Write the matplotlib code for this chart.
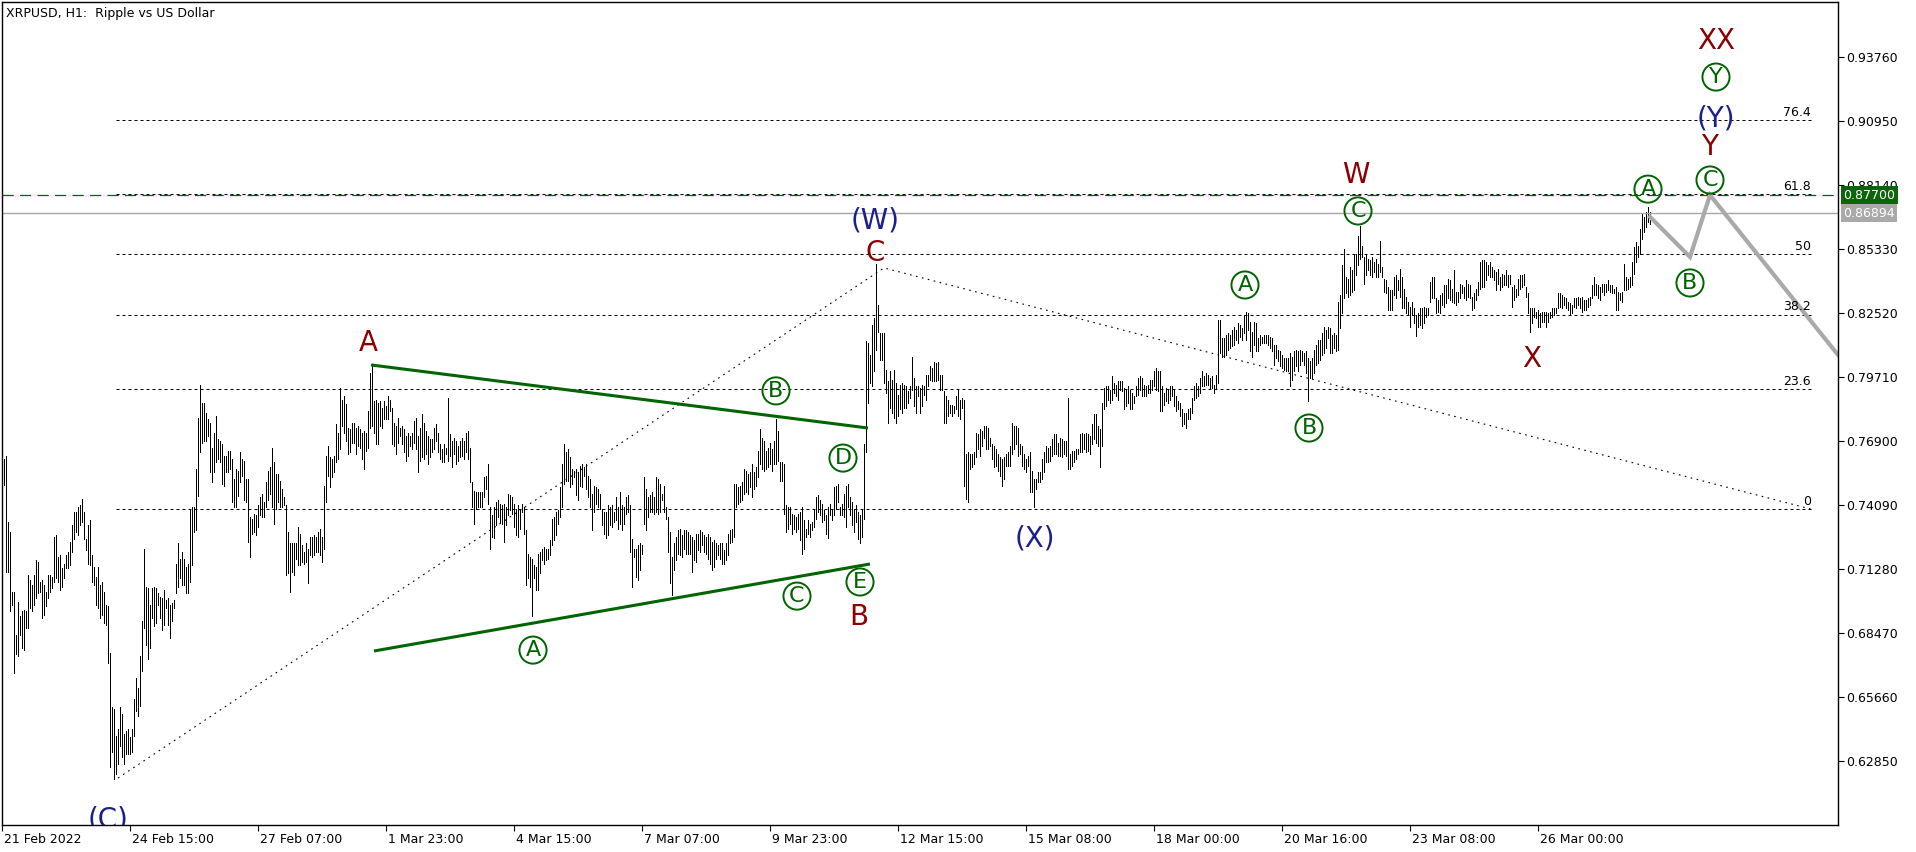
import numpy as np
import matplotlib
matplotlib.use("Agg")
import matplotlib.pyplot as plt
from matplotlib.transforms import blended_transform_factory, ScaledTranslation

# hourly bars (high / low)
high = [
    0.7611, 0.7625, 0.7334, 0.7291, 0.7029, 0.7029, 0.6840, 0.6985, 0.6920, 0.6942,
    0.6949, 0.6942, 0.7102, 0.7080, 0.7058, 0.7102, 0.7167, 0.7160, 0.7073, 0.7080,
    0.7058, 0.7029, 0.7102, 0.7102, 0.7094, 0.7269, 0.7276, 0.7182, 0.7189, 0.7131,
    0.7152, 0.7189, 0.7203, 0.7247, 0.7320, 0.7378, 0.7378, 0.7400, 0.7407, 0.7436,
    0.7378, 0.7261, 0.7320, 0.7341, 0.7189, 0.7138, 0.7094, 0.7138, 0.7058, 0.7073,
    0.7029, 0.6971, 0.6964, 0.6760, 0.6520, 0.6513, 0.6396, 0.6425, 0.6520, 0.6491,
    0.6403, 0.6418, 0.6425, 0.6389, 0.6425, 0.6556, 0.6651, 0.6607, 0.6745, 0.6898,
    0.7218, 0.7051, 0.7044, 0.6971, 0.7044, 0.7051, 0.7044, 0.7022, 0.7007, 0.7000,
    0.7036, 0.6993, 0.7000, 0.6971, 0.6978, 0.6993, 0.7152, 0.7240, 0.7174, 0.7203,
    0.7174, 0.7138, 0.7152, 0.7392, 0.7400, 0.7400, 0.7567, 0.7793, 0.7938, 0.7858,
    0.7858, 0.7814, 0.7785, 0.7771, 0.7661, 0.7727, 0.7800, 0.7698, 0.7691, 0.7676,
    0.7625, 0.7625, 0.7647, 0.7647, 0.7611, 0.7523, 0.7567, 0.7560, 0.7640, 0.7611,
    0.7603, 0.7523, 0.7523, 0.7356, 0.7349, 0.7370, 0.7363, 0.7407, 0.7443, 0.7458,
    0.7421, 0.7509, 0.7560, 0.7574, 0.7661, 0.7596, 0.7545, 0.7545, 0.7516, 0.7480,
    0.7443, 0.7407, 0.7291, 0.7240, 0.7240, 0.7240, 0.7240, 0.7312, 0.7283, 0.7232,
    0.7203, 0.7240, 0.7218, 0.7269, 0.7269, 0.7276, 0.7269, 0.7291, 0.7305, 0.7269,
    0.7494, 0.7625, 0.7669, 0.7618, 0.7611, 0.7625, 0.7763, 0.7727, 0.7923, 0.7872,
    0.7887, 0.7851, 0.7749, 0.7742, 0.7771, 0.7771, 0.7749, 0.7756, 0.7742, 0.7727,
    0.7734, 0.7727, 0.7822, 0.7989, 0.8025, 0.7865, 0.7872, 0.7858, 0.7865, 0.7836,
    0.7865, 0.7843, 0.7887, 0.7872, 0.7836, 0.7771, 0.7756, 0.7793, 0.7749, 0.7756,
    0.7742, 0.7712, 0.7727, 0.7712, 0.7727, 0.7778, 0.7793, 0.7712, 0.7749, 0.7807,
    0.7771, 0.7734, 0.7712, 0.7698, 0.7698, 0.7749, 0.7763, 0.7727, 0.7676, 0.7654,
    0.7676, 0.7661, 0.7880, 0.7720, 0.7691, 0.7705, 0.7691, 0.7669, 0.7691, 0.7705,
    0.7691, 0.7727, 0.7734, 0.7661, 0.7509, 0.7472, 0.7465, 0.7465, 0.7465, 0.7465,
    0.7531, 0.7538, 0.7589, 0.7400, 0.7363, 0.7400, 0.7421, 0.7429, 0.7414, 0.7407,
    0.7414, 0.7400, 0.7458, 0.7451, 0.7443, 0.7414, 0.7392, 0.7407, 0.7385, 0.7414,
    0.7400, 0.7298, 0.7196, 0.7182, 0.7174, 0.7145, 0.7138, 0.7196, 0.7203, 0.7218,
    0.7225, 0.7218, 0.7218, 0.7254, 0.7349, 0.7356, 0.7378, 0.7385, 0.7487, 0.7589,
    0.7676, 0.7640, 0.7654, 0.7618, 0.7567, 0.7560, 0.7567, 0.7552, 0.7581, 0.7589,
    0.7574, 0.7589, 0.7538, 0.7523, 0.7458, 0.7494, 0.7487, 0.7480, 0.7458, 0.7392,
    0.7378, 0.7378, 0.7407, 0.7400, 0.7407, 0.7378, 0.7443, 0.7400, 0.7465, 0.7407,
    0.7400, 0.7443, 0.7451, 0.7407, 0.7261, 0.7218, 0.7218, 0.7232, 0.7240, 0.7232,
    0.7531, 0.7480, 0.7443, 0.7451, 0.7465, 0.7443, 0.7531, 0.7523, 0.7501, 0.7458,
    0.7494, 0.7400, 0.7356, 0.7291, 0.7182, 0.7240, 0.7269, 0.7298, 0.7305, 0.7276,
    0.7298, 0.7298, 0.7291, 0.7276, 0.7269, 0.7254, 0.7283, 0.7283, 0.7298, 0.7291,
    0.7276, 0.7269, 0.7283, 0.7269, 0.7247, 0.7254, 0.7240, 0.7232, 0.7240, 0.7240,
    0.7211, 0.7240, 0.7283, 0.7298, 0.7305, 0.7501, 0.7501, 0.7487, 0.7494, 0.7509,
    0.7567, 0.7560, 0.7545, 0.7552, 0.7589, 0.7552, 0.7574, 0.7647, 0.7741, 0.7705,
    0.7691, 0.7647, 0.7661, 0.7683, 0.7654, 0.7691, 0.7785, 0.7734, 0.7596, 0.7596,
    0.7589, 0.7407, 0.7400, 0.7400, 0.7370, 0.7363, 0.7356, 0.7370, 0.7378, 0.7400,
    0.7341, 0.7305, 0.7341, 0.7327, 0.7334, 0.7385, 0.7443, 0.7451, 0.7429, 0.7414,
    0.7385, 0.7363, 0.7400, 0.7414, 0.7392, 0.7487, 0.7494, 0.7501, 0.7400, 0.7414,
    0.7458, 0.7494, 0.7501, 0.7443, 0.7421, 0.7392, 0.7407, 0.7378, 0.7363, 0.7392,
    0.7676, 0.8127, 0.8119, 0.8068, 0.8199, 0.8228, 0.8468, 0.8287, 0.8163, 0.8163,
    0.8163, 0.8003, 0.7952, 0.7996, 0.7959, 0.8003, 0.7945, 0.7894, 0.7938, 0.7945,
    0.7938, 0.7930, 0.7909, 0.7930, 0.8061, 0.7967, 0.7930, 0.7930, 0.7923, 0.7938,
    0.7930, 0.7981, 0.7981, 0.8018, 0.8010, 0.8039, 0.8032, 0.8039, 0.7981, 0.7981,
    0.7909, 0.7887, 0.7872, 0.7850, 0.7850, 0.7843, 0.7887, 0.7916, 0.7872, 0.7880,
    0.7872, 0.7632, 0.7640, 0.7632, 0.7632, 0.7640, 0.7727, 0.7720, 0.7742, 0.7734,
    0.7756, 0.7756, 0.7749, 0.7705, 0.7676, 0.7669, 0.7654, 0.7632, 0.7618, 0.7610,
    0.7618, 0.7632, 0.7640, 0.7669, 0.7770, 0.7756, 0.7756, 0.7749, 0.7676, 0.7669,
    0.7632, 0.7610, 0.7625, 0.7640, 0.7560, 0.7523, 0.7523, 0.7552, 0.7552, 0.7610,
    0.7640, 0.7669, 0.7661, 0.7669, 0.7698, 0.7720, 0.7720, 0.7683, 0.7705, 0.7698,
    0.7691, 0.7691, 0.7880, 0.7632, 0.7647, 0.7647, 0.7654, 0.7654, 0.7720, 0.7727,
    0.7720, 0.7727, 0.7720, 0.7712, 0.7763, 0.7807, 0.7807, 0.7756, 0.7742, 0.7858,
    0.7923, 0.7930, 0.7930, 0.7916, 0.7974, 0.7945, 0.7938, 0.7952, 0.7952, 0.7952,
    0.7923, 0.7916, 0.7930, 0.7916, 0.7901, 0.7887, 0.7930, 0.7967, 0.7974, 0.7967,
    0.7938, 0.7930, 0.7938, 0.7959, 0.7959, 0.7996, 0.8010, 0.7996, 0.7996, 0.7930,
    0.7901, 0.7923, 0.7916, 0.7930, 0.7930, 0.7916, 0.7887, 0.7865, 0.7858, 0.7829,
    0.7814, 0.7814, 0.7829, 0.7836, 0.7880, 0.7930, 0.7945, 0.7930, 0.7967, 0.7996,
    0.7974, 0.7989, 0.7981, 0.7967, 0.7974, 0.7938, 0.7981, 0.8221, 0.8221, 0.8141,
    0.8141, 0.8156, 0.8163, 0.8156, 0.8177, 0.8192, 0.8177, 0.8207, 0.8199, 0.8185,
    0.8243, 0.8258, 0.8250, 0.8214, 0.8170, 0.8214, 0.8207, 0.8141, 0.8156, 0.8148,
    0.8156, 0.8156, 0.8156, 0.8148, 0.8141, 0.8112, 0.8112, 0.8090, 0.8083, 0.8069,
    0.8054, 0.8054, 0.8054, 0.8076, 0.8061, 0.8083, 0.8090, 0.8083, 0.8090, 0.8083,
    0.8076, 0.8083, 0.8054, 0.8040, 0.8054, 0.8090, 0.8112, 0.8134, 0.8134, 0.8163,
    0.8192, 0.8178, 0.8192, 0.8185, 0.8156, 0.8163, 0.8156, 0.8301, 0.8330, 0.8461,
    0.8534, 0.8410, 0.8403, 0.8454, 0.8439, 0.8505, 0.8512, 0.8592, 0.8636, 0.8548,
    0.8498, 0.8505, 0.8490, 0.8483, 0.8498, 0.8476, 0.8490, 0.8469, 0.8570, 0.8454,
    0.8403, 0.8396, 0.8367, 0.8352, 0.8352, 0.8410, 0.8418, 0.8396, 0.8447, 0.8410,
    0.8359, 0.8323, 0.8301, 0.8279, 0.8301, 0.8272, 0.8243, 0.8250, 0.8272, 0.8272,
    0.8279, 0.8272, 0.8272, 0.8389, 0.8410, 0.8410, 0.8316, 0.8309, 0.8330, 0.8338,
    0.8374, 0.8374, 0.8403, 0.8396, 0.8359, 0.8439, 0.8345, 0.8345, 0.8381, 0.8374,
    0.8367, 0.8396, 0.8381, 0.8374, 0.8323, 0.8338, 0.8359, 0.8389, 0.8476, 0.8483,
    0.8483, 0.8476, 0.8461, 0.8476, 0.8454, 0.8439, 0.8432, 0.8447, 0.8410, 0.8425,
    0.8418, 0.8439, 0.8418, 0.8418, 0.8367, 0.8374, 0.8359, 0.8403, 0.8418, 0.8418,
    0.8425, 0.8367, 0.8338, 0.8272, 0.8272, 0.8272, 0.8258, 0.8265, 0.8250, 0.8258,
    0.8258, 0.8258, 0.8250, 0.8258, 0.8272, 0.8272, 0.8272, 0.8338, 0.8338, 0.8330,
    0.8323, 0.8316, 0.8301, 0.8294, 0.8287, 0.8316, 0.8316, 0.8323, 0.8316, 0.8323,
    0.8309, 0.8309, 0.8316, 0.8323, 0.8374, 0.8410, 0.8381, 0.8374, 0.8367, 0.8381,
    0.8381, 0.8381, 0.8396, 0.8374, 0.8374, 0.8359, 0.8367, 0.8345, 0.8338, 0.8345,
    0.8468, 0.8410, 0.8403, 0.8410, 0.8476, 0.8541, 0.8563, 0.8548, 0.8621, 0.8687,
    0.8672, 0.8694, 0.8716, 0.8694,
]
low = [
    0.7497, 0.7116, 0.7116, 0.6942, 0.6971, 0.6673, 0.6753, 0.6745, 0.6840, 0.6782,
    0.6774, 0.6869, 0.6869, 0.6956, 0.6942, 0.6971, 0.7000, 0.7022, 0.7029, 0.6912,
    0.6927, 0.6964, 0.7000, 0.7029, 0.7044, 0.7073, 0.7087, 0.7073, 0.7036, 0.7051,
    0.7087, 0.7131, 0.7131, 0.7145, 0.7203, 0.7261, 0.7291, 0.7276, 0.7320, 0.7334,
    0.7261, 0.7211, 0.7152, 0.7145, 0.7073, 0.7058, 0.6971, 0.6956, 0.6912, 0.6927,
    0.6891, 0.6883, 0.6716, 0.6258, 0.6323, 0.6207, 0.6229, 0.6273, 0.6352, 0.6302,
    0.6273, 0.6316, 0.6316, 0.6316, 0.6323, 0.6396, 0.6505, 0.6484, 0.6527, 0.6680,
    0.6869, 0.6796, 0.6731, 0.6782, 0.6912, 0.6876, 0.6891, 0.6971, 0.6912, 0.6862,
    0.6883, 0.6956, 0.6883, 0.6825, 0.6898, 0.6956, 0.7022, 0.7051, 0.7087, 0.7058,
    0.7058, 0.7022, 0.7022, 0.7073, 0.7145, 0.7291, 0.7298, 0.7450, 0.7640, 0.7683,
    0.7691, 0.7691, 0.7712, 0.7552, 0.7509, 0.7552, 0.7596, 0.7611, 0.7596, 0.7501,
    0.7494, 0.7552, 0.7552, 0.7567, 0.7421, 0.7400, 0.7400, 0.7450, 0.7509, 0.7538,
    0.7429, 0.7421, 0.7247, 0.7182, 0.7283, 0.7291, 0.7276, 0.7312, 0.7363, 0.7356,
    0.7356, 0.7400, 0.7429, 0.7458, 0.7400, 0.7327, 0.7392, 0.7421, 0.7400, 0.7400,
    0.7407, 0.7102, 0.7109, 0.7029, 0.7116, 0.7102, 0.7174, 0.7145, 0.7145, 0.7160,
    0.7152, 0.7160, 0.7065, 0.7189, 0.7182, 0.7189, 0.7203, 0.7203, 0.7189, 0.7160,
    0.7218, 0.7421, 0.7538, 0.7487, 0.7531, 0.7552, 0.7596, 0.7611, 0.7654, 0.7756,
    0.7727, 0.7691, 0.7632, 0.7640, 0.7683, 0.7683, 0.7632, 0.7669, 0.7661, 0.7611,
    0.7567, 0.7647, 0.7661, 0.7749, 0.7756, 0.7727, 0.7676, 0.7676, 0.7756, 0.7749,
    0.7785, 0.7785, 0.7785, 0.7822, 0.7676, 0.7669, 0.7632, 0.7683, 0.7712, 0.7676,
    0.7640, 0.7603, 0.7625, 0.7669, 0.7654, 0.7683, 0.7654, 0.7552, 0.7603, 0.7618,
    0.7610, 0.7632, 0.7589, 0.7618, 0.7640, 0.7654, 0.7690, 0.7640, 0.7610, 0.7596,
    0.7596, 0.7632, 0.7603, 0.7625, 0.7574, 0.7632, 0.7589, 0.7603, 0.7618, 0.7625,
    0.7610, 0.7640, 0.7610, 0.7509, 0.7400, 0.7327, 0.7392, 0.7400, 0.7400, 0.7400,
    0.7443, 0.7480, 0.7414, 0.7218, 0.7269, 0.7262, 0.7320, 0.7356, 0.7334, 0.7327,
    0.7247, 0.7320, 0.7363, 0.7385, 0.7370, 0.7312, 0.7276, 0.7269, 0.7305, 0.7378,
    0.7283, 0.7058, 0.7087, 0.7051, 0.6920, 0.7087, 0.7036, 0.7036, 0.7109, 0.7167,
    0.7152, 0.7167, 0.7174, 0.7189, 0.7232, 0.7254, 0.7276, 0.7327, 0.7356, 0.7400,
    0.7501, 0.7516, 0.7516, 0.7487, 0.7501, 0.7531, 0.7451, 0.7429, 0.7494, 0.7487,
    0.7538, 0.7480, 0.7443, 0.7400, 0.7298, 0.7378, 0.7414, 0.7400, 0.7392, 0.7320,
    0.7283, 0.7262, 0.7276, 0.7320, 0.7312, 0.7334, 0.7341, 0.7305, 0.7327, 0.7298,
    0.7327, 0.7370, 0.7378, 0.7203, 0.7051, 0.7182, 0.7094, 0.7080, 0.7123, 0.7196,
    0.7327, 0.7298, 0.7356, 0.7378, 0.7378, 0.7370, 0.7378, 0.7370, 0.7378, 0.7429,
    0.7378, 0.7349, 0.7203, 0.7065, 0.7014, 0.7123, 0.7167, 0.7196, 0.7189, 0.7182,
    0.7218, 0.7196, 0.7196, 0.7196, 0.7116, 0.7167, 0.7160, 0.7211, 0.7203, 0.7232,
    0.7203, 0.7196, 0.7174, 0.7152, 0.7123, 0.7138, 0.7174, 0.7189, 0.7174, 0.7152,
    0.7152, 0.7167, 0.7189, 0.7240, 0.7247, 0.7269, 0.7400, 0.7414, 0.7421, 0.7429,
    0.7458, 0.7465, 0.7458, 0.7487, 0.7443, 0.7480, 0.7494, 0.7531, 0.7589, 0.7567,
    0.7560, 0.7567, 0.7574, 0.7589, 0.7560, 0.7589, 0.7589, 0.7603, 0.7516, 0.7516,
    0.7370, 0.7291, 0.7305, 0.7327, 0.7283, 0.7305, 0.7291, 0.7305, 0.7254, 0.7196,
    0.7218, 0.7269, 0.7283, 0.7269, 0.7298, 0.7312, 0.7349, 0.7378, 0.7363, 0.7334,
    0.7341, 0.7283, 0.7262, 0.7363, 0.7341, 0.7363, 0.7392, 0.7421, 0.7363, 0.7363,
    0.7356, 0.7312, 0.7400, 0.7363, 0.7320, 0.7290, 0.7334, 0.7261, 0.7243, 0.7270,
    0.7349, 0.7640, 0.7858, 0.7945, 0.7930, 0.7996, 0.8090, 0.8170, 0.8047, 0.8047,
    0.7945, 0.7901, 0.7770, 0.7836, 0.7814, 0.7792, 0.7770, 0.7800, 0.7829, 0.7814,
    0.7836, 0.7836, 0.7858, 0.7880, 0.7916, 0.7843, 0.7814, 0.7887, 0.7814, 0.7843,
    0.7894, 0.7872, 0.7930, 0.7959, 0.7952, 0.7952, 0.7952, 0.7959, 0.7916, 0.7916,
    0.7770, 0.7770, 0.7800, 0.7814, 0.7800, 0.7814, 0.7829, 0.7800, 0.7785, 0.7836,
    0.7494, 0.7436, 0.7421, 0.7567, 0.7574, 0.7589, 0.7618, 0.7654, 0.7625, 0.7669,
    0.7705, 0.7654, 0.7654, 0.7669, 0.7611, 0.7574, 0.7581, 0.7560, 0.7538, 0.7494,
    0.7523, 0.7581, 0.7581, 0.7581, 0.7632, 0.7654, 0.7676, 0.7625, 0.7632, 0.7581,
    0.7567, 0.7552, 0.7581, 0.7465, 0.7465, 0.7400, 0.7480, 0.7509, 0.7509, 0.7523,
    0.7552, 0.7596, 0.7596, 0.7603, 0.7625, 0.7632, 0.7632, 0.7625, 0.7625, 0.7618,
    0.7632, 0.7625, 0.7567, 0.7567, 0.7581, 0.7596, 0.7610, 0.7632, 0.7640, 0.7640,
    0.7654, 0.7640, 0.7647, 0.7632, 0.7676, 0.7698, 0.7683, 0.7669, 0.7574, 0.7669,
    0.7829, 0.7843, 0.7872, 0.7858, 0.7872, 0.7901, 0.7887, 0.7872, 0.7916, 0.7909,
    0.7829, 0.7843, 0.7858, 0.7829, 0.7829, 0.7858, 0.7887, 0.7894, 0.7916, 0.7887,
    0.7887, 0.7887, 0.7901, 0.7901, 0.7916, 0.7930, 0.7916, 0.7909, 0.7821, 0.7821,
    0.7850, 0.7865, 0.7858, 0.7872, 0.7887, 0.7843, 0.7821, 0.7829, 0.7800, 0.7756,
    0.7763, 0.7749, 0.7785, 0.7785, 0.7814, 0.7872, 0.7880, 0.7887, 0.7901, 0.7930,
    0.7930, 0.7938, 0.7938, 0.7923, 0.7923, 0.7901, 0.7923, 0.7945, 0.8076, 0.8061,
    0.8061, 0.8068, 0.8090, 0.8097, 0.8105, 0.8112, 0.8134, 0.8119, 0.8148, 0.8134,
    0.8163, 0.8134, 0.8178, 0.8083, 0.8061, 0.8112, 0.8083, 0.8083, 0.8112, 0.8119,
    0.8119, 0.8119, 0.8112, 0.8098, 0.8083, 0.8025, 0.8054, 0.8040, 0.8018, 0.8010,
    0.8003, 0.7996, 0.7996, 0.7930, 0.7960, 0.7996, 0.8018, 0.7996, 0.8025, 0.8040,
    0.8025, 0.7989, 0.7865, 0.7967, 0.7967, 0.7989, 0.8025, 0.8032, 0.8047, 0.8069,
    0.8076, 0.8098, 0.8141, 0.8076, 0.8076, 0.8098, 0.8083, 0.8090, 0.8185, 0.8250,
    0.8316, 0.8338, 0.8323, 0.8330, 0.8345, 0.8352, 0.8418, 0.8461, 0.8490, 0.8498,
    0.8381, 0.8418, 0.8440, 0.8418, 0.8410, 0.8432, 0.8410, 0.8410, 0.8432, 0.8410,
    0.8345, 0.8338, 0.8265, 0.8265, 0.8265, 0.8330, 0.8316, 0.8352, 0.8323, 0.8272,
    0.8272, 0.8250, 0.8243, 0.8192, 0.8243, 0.8207, 0.8149, 0.8192, 0.8199, 0.8185,
    0.8207, 0.8236, 0.8243, 0.8301, 0.8316, 0.8316, 0.8250, 0.8258, 0.8250, 0.8287,
    0.8279, 0.8294, 0.8316, 0.8309, 0.8301, 0.8294, 0.8287, 0.8301, 0.8316, 0.8338,
    0.8316, 0.8309, 0.8323, 0.8316, 0.8265, 0.8272, 0.8309, 0.8330, 0.8359, 0.8367,
    0.8367, 0.8396, 0.8418, 0.8410, 0.8410, 0.8396, 0.8352, 0.8381, 0.8352, 0.8367,
    0.8374, 0.8374, 0.8367, 0.8381, 0.8279, 0.8309, 0.8323, 0.8330, 0.8359, 0.8367,
    0.8374, 0.8323, 0.8250, 0.8170, 0.8207, 0.8236, 0.8229, 0.8192, 0.8192, 0.8214,
    0.8214, 0.8192, 0.8214, 0.8229, 0.8236, 0.8243, 0.8250, 0.8272, 0.8279, 0.8272,
    0.8287, 0.8272, 0.8265, 0.8243, 0.8250, 0.8279, 0.8272, 0.8287, 0.8272, 0.8258,
    0.8265, 0.8265, 0.8279, 0.8287, 0.8316, 0.8330, 0.8330, 0.8316, 0.8309, 0.8345,
    0.8330, 0.8345, 0.8352, 0.8345, 0.8338, 0.8338, 0.8265, 0.8265, 0.8309, 0.8301,
    0.8352, 0.8352, 0.8359, 0.8367, 0.8374, 0.8425, 0.8476, 0.8498, 0.8512, 0.8577,
    0.8607, 0.8628, 0.8650, 0.8643,
]

tick_bars = [-1, 63, 127, 191, 255, 319, 383, 447, 511, 575, 639, 703, 767]
tick_dates = ["21 Feb 2022", "24 Feb 15:00", "27 Feb 07:00", "1 Mar 23:00",
              "4 Mar 15:00", "7 Mar 07:00", "9 Mar 23:00", "12 Mar 15:00",
              "15 Mar 08:00", "18 Mar 00:00", "20 Mar 16:00", "23 Mar 08:00",
              "26 Mar 00:00"]
price_ticks = [0.93760, 0.90950, 0.88140, 0.85330, 0.82520, 0.79710,
               0.76900, 0.74090, 0.71280, 0.68470, 0.65660, 0.62850]

fib_levels = [0.0, 23.6, 38.2, 50.0, 61.8, 76.4]
fib_0, fib_100 = 0.7391, 0.9627
target_price = 0.87700
last_price = 0.86894

# wave labels: (text, bar, price)
red_labels = [("A", 182, 0.8120), ("C", 435.5, 0.8515), ("B", 427.5, 0.6917),
              ("W", 676, 0.8858), ("X", 764, 0.8050), ("Y", 853, 0.8981),
              ("XX", 856, 0.9446)]
navy_labels = [("(C)", 52, 0.6026), ("(W)", 435.5, 0.8660),
               ("(X)", 515.5, 0.7264), ("(Y)", 856, 0.9108)]
circle_labels = [("A", 264.5, 0.6772), ("C", 396.5, 0.7009), ("B", 386, 0.7910),
                 ("D", 419.5, 0.7615), ("E", 428, 0.7071), ("A", 620.5, 0.8375),
                 ("B", 652.5, 0.7747), ("C", 677, 0.8700), ("A", 822, 0.8796),
                 ("B", 843, 0.8384), ("C", 853, 0.8836), ("Y", 856, 0.9288)]

upper_line = ([183.5, 432], [0.8024, 0.7747])
lower_line = ([185, 433], [0.6768, 0.7150])
fib_trend = ([57, 440, 903.5], [0.6210, 0.8450, 0.7391])
forecast = ([823, 843, 853, 917], [0.8674, 0.8498, 0.8770, 0.8068])

RED = "#8b0000"
NAVY = "#1c1f8a"
GREEN = "#006400"

fig = plt.figure(figsize=(19.16, 8.52), dpi=100)
ax = fig.add_axes([2 / 1916, 27 / 852, 1836 / 1916, 823 / 852])
ax.set_xlim(-1, 917)
ax.set_ylim(0.60040, 0.96175)

bars = np.arange(len(high))
ax.vlines(bars, low, high, color="black", lw=0.72, antialiased=False)

for lv in fib_levels:
    p = fib_0 + (fib_100 - fib_0) * lv / 100
    ax.plot([56, 903.5], [p, p], color="black", lw=0.72, ls=(0, (3, 3)))
    ax.text(903.5, p + 0.0006, f"{lv:g}", ha="right", va="bottom", fontsize=9)

ax.plot(*fib_trend, color="black", lw=0.8, ls=(0, (1.5, 4)))
ax.axhline(target_price, color=GREEN, lw=0.9, ls=(0, (9, 5)))
ax.axhline(last_price, color="#a6a6a6", lw=1.0)

ax.plot(*upper_line, color=GREEN, lw=2.2, solid_capstyle="butt")
ax.plot(*lower_line, color=GREEN, lw=2.2, solid_capstyle="butt")
ax.plot(*forecast, color="#a9a9a9", lw=3.0, solid_joinstyle="miter")

for t, x, y in red_labels:
    ax.text(x, y, t, color=RED, fontsize=20, ha="center", va="center")
for t, x, y in navy_labels:
    ax.text(x, y, t, color=NAVY, fontsize=20, ha="center", va="center",
            clip_on=True)
for t, x, y in circle_labels:
    ax.text(x, y, t, color=GREEN, fontsize=16, ha="center", va="center",
            bbox=dict(boxstyle="circle,pad=0.16", fc="none", ec=GREEN, lw=1.4))

# axes, ticks
ax.yaxis.tick_right()
ax.set_yticks(price_ticks)
ax.set_yticklabels([f"{v:.5f}" for v in price_ticks])
ax.set_xticks(tick_bars)
ax.set_xticklabels(tick_dates, ha="left")
ax.tick_params(axis="both", direction="out", length=4, width=0.8,
               labelsize=9, pad=2)
shift = ScaledTranslation(2 / 100, 0, fig.dpi_scale_trans)
for lbl in ax.get_xticklabels():
    lbl.set_transform(lbl.get_transform() + shift)
for s in ax.spines.values():
    s.set_linewidth(1.0)

trans = blended_transform_factory(ax.transAxes, ax.transData)
box_shift = ScaledTranslation(5 / 100, 0, fig.dpi_scale_trans)
ax.text(1.0, target_price, "0.87700", transform=trans + box_shift, ha="left",
        va="center", color="white", fontsize=9, clip_on=False, zorder=5,
        bbox=dict(boxstyle="square,pad=0.2", fc="#0b650b", ec="none"))
ax.text(1.0, last_price, "0.86894", transform=trans + box_shift, ha="left",
        va="center", color="white", fontsize=9, clip_on=False, zorder=5,
        bbox=dict(boxstyle="square,pad=0.2", fc="#a9a9a9", ec="none"))

fig.text(6 / 1916, 1 - 14 / 852, "XRPUSD, H1:  Ripple vs US Dollar",
         fontsize=9, va="center", ha="left")

fig.savefig("out.png", dpi=100)
